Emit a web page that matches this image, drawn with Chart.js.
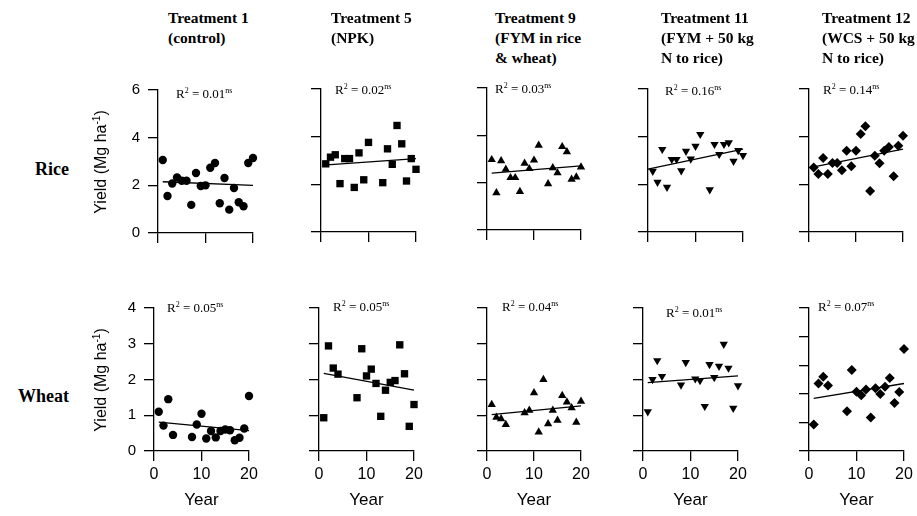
<!DOCTYPE html>
<html><head><meta charset="utf-8">
<script src="https://cdn.jsdelivr.net/npm/chart.js@4.4.1/dist/chart.umd.min.js"></script>
<style>
body{margin:0;width:917px;height:516px;background:#fff;position:relative;overflow:hidden;font-family:"Liberation Sans",Arial,sans-serif;color:#000}
.t{position:absolute;font-family:"Liberation Serif","Times New Roman",serif;font-weight:bold;font-size:15.5px;line-height:20px;white-space:nowrap}
.row{position:absolute;left:0;width:69px;text-align:right;font-family:"Liberation Serif","Times New Roman",serif;font-weight:bold;font-size:18px;line-height:22px;white-space:nowrap}
.r2{position:absolute;font-family:"Liberation Serif","Times New Roman",serif;font-size:13px;line-height:14px;white-space:nowrap}
.r2 span{font-size:8px;position:relative;top:-5px}
.yt{position:absolute;width:140px;height:20px;line-height:20px;text-align:center;font-size:16px;white-space:nowrap;transform:rotate(-90deg)}
.yt span{font-size:10px;position:relative;top:-6px}
.xt{position:absolute;width:80px;text-align:center;font-size:17px;line-height:20px}
canvas{position:absolute}
</style></head><body>
<script>
// ---- data ----
const yearTicks = [0, 10, 20];
const riceYTicks = [0, 2, 4, 6];
const riceYTickLabels = ['0', '2', '4', '6'];
const wheatYTicks = [0, 1, 2, 3, 4];
const wheatYTickLabels = ['0', '1', '2', '3', '4'];
const wheatT12YTicks = [0, 1, 2, 3, 4, 5];

const riceT1Year = [1,2,3,4,5,6,7,8,9,10,11,12,13,14,15,16,17,18,19,20];
const riceT1Yield = [3.06,1.55,2.08,2.33,2.19,2.19,1.18,2.52,1.97,2.00,2.74,2.94,1.25,2.31,0.98,1.89,1.29,1.12,2.94,3.15];
const riceT1FitYear = [1, 20];
const riceT1Fit = [2.15, 2.00];

const riceT5Year = [1,2,3,4,5,6,7,8,9,10,13,14,15,16,17,18,19,20];
const riceT5Yield = [2.86,3.14,3.24,2.03,3.08,3.08,1.87,3.32,2.19,3.76,2.07,3.49,2.84,4.47,3.70,2.14,3.08,2.63];
const riceT5FitYear = [0.5, 20];
const riceT5Fit = [2.81, 3.08];

const riceT9Year = [1,2,3,4,5,6,7,8,9,10,11,13,14,15,16,17,18,19,20];
const riceT9Yield = [2.97,1.57,2.92,2.56,2.21,2.21,1.62,2.82,2.59,2.95,3.58,1.95,2.63,2.41,3.52,3.30,2.14,2.24,2.66];
const riceT9FitYear = [1, 20];
const riceT9Fit = [2.40, 2.71];

const riceT11Year = [1,2,3,4,5,6,7,8,9,10,11,13,14,15,16,17,18,19,20];
const riceT11Yield = [2.55,2.09,3.47,1.88,3.05,3.05,2.57,3.39,3.07,3.60,4.10,1.78,3.68,3.26,3.68,3.75,2.97,3.42,3.21];
const riceT11FitYear = [0, 20];
const riceT11Fit = [2.64, 3.48];

const riceT12Year = [1,2,3,4,5,6,7,8,9,10,11,12,13,14,15,16,17,18,19,20];
const riceT12Yield = [2.71,2.43,3.11,2.43,2.90,2.90,2.59,3.41,2.76,3.41,4.11,4.44,1.72,3.20,2.88,3.41,3.57,2.34,3.62,4.04];
const riceT12FitYear = [1, 20];
const riceT12Fit = [2.73, 3.48];

const wheatT1Year = [1,2,3,4,8,9,10,11,12,13,14,15,16,17,18,19,20];
const wheatT1Yield = [1.10,0.71,1.45,0.45,0.39,0.74,1.04,0.35,0.56,0.38,0.56,0.60,0.58,0.30,0.37,0.63,1.54];
const wheatT1FitYear = [1, 20];
const wheatT1Fit = [0.81, 0.57];

const wheatT5Year = [1,2,3,4,8,9,10,11,12,13,14,15,16,17,18,19,20];
const wheatT5Yield = [0.93,2.94,2.32,2.15,1.49,2.86,2.10,2.29,1.89,0.97,1.70,1.92,1.97,2.97,2.16,0.69,1.30];
const wheatT5FitYear = [1, 20];
const wheatT5Fit = [2.17, 1.70];

const wheatT9Year = [1,2,3,4,8,9,10,11,12,13,14,15,16,17,18,19,20];
const wheatT9Yield = [1.30,0.94,0.90,0.74,1.07,1.14,1.63,0.53,2.00,0.76,1.14,0.86,1.55,1.37,1.21,0.80,1.39];
const wheatT9FitYear = [1, 20];
const wheatT9Fit = [1.02, 1.26];

const wheatT11Year = [1,2,3,4,8,9,11,12,13,14,15,16,17,18,19,20];
const wheatT11Yield = [1.10,2.00,2.53,2.09,1.85,2.48,2.02,1.97,1.25,2.42,2.06,2.37,2.99,2.32,1.20,1.83];
const wheatT11FitYear = [1, 20];
const wheatT11Fit = [1.91, 2.10];

const wheatT12Year = [1,2,3,4,8,9,10,11,12,13,14,15,16,17,18,19,20];
const wheatT12Yield = [0.93,2.36,2.60,2.29,1.39,2.83,2.07,1.95,2.15,1.17,2.19,1.99,2.25,2.55,1.68,2.06,3.57];
const wheatT12FitYear = [1, 20];
const wheatT12Fit = [1.84, 2.36];

const titles = [
  ['Treatment 1', '(control)'],
  ['Treatment 5', '(NPK)'],
  ['Treatment 9', '(FYM in rice', '& wheat)'],
  ['Treatment 11', '(FYM + 50 kg', 'N to rice)'],
  ['Treatment 12', '(WCS + 50 kg', 'N to rice)']
];
const riceR2 = ['0.01', '0.02', '0.03', '0.16', '0.14'];
const wheatR2 = ['0.05', '0.05', '0.04', '0.01', '0.07'];
const sigLabel = 'ns';

// ---- layout (pixels) ----
const titleLeft = [168, 331, 495, 661, 822];
const ricePanels = [
  {x:158, y:90, w:95, h:143}, {x:321, y:89, w:95, h:143}, {x:487, y:88, w:94, h:142},
  {x:648, y:89, w:95, h:143}, {x:809, y:89, w:94, h:143}
];
const wheatPanels = [
  {x:154, y:308, w:95, h:143}, {x:319, y:308, w:95, h:143}, {x:487, y:308, w:94, h:143},
  {x:643, y:308, w:95, h:143}, {x:809, y:308, w:95, h:143}
];
const riceR2Pos = [[176,94],[335,90],[495,89],[665,91],[823,90]];
const wheatR2Pos = [[167,308],[333,307],[502,307],[666,313],[818,307]];

const styles = [
  {ps:'circle', rot:0, r:4.2},
  {ps:'rect', rot:0, r:5.2},
  {ps:'triangle', rot:0, r:4.8},
  {ps:'triangle', rot:180, r:4.8},
  {ps:'rectRot', rot:0, r:5}
];

const PADL = 50, PADT = 20, PADR = 20, PADB = 50;

function addDiv(cls, html, css) {
  const d = document.createElement('div');
  d.className = cls; d.innerHTML = html; d.style.cssText = css;
  document.body.appendChild(d);
}

function makeChart(p, years, vals, fitX, fitY, st, yTicks, yLabels, showY, showX) {
  const cv = document.createElement('canvas');
  const cw = p.w + PADL + PADR, ch = p.h + PADT + PADB;
  cv.width = cw; cv.height = ch;
  cv.style.left = (p.x - PADL) + 'px'; cv.style.top = (p.y - PADT) + 'px';
  cv.style.width = cw + 'px'; cv.style.height = ch + 'px';
  document.body.appendChild(cv);
  const axisCommon = {
    grid:{drawOnChartArea:false, drawTicks:true, tickLength:10, color:'#000', lineWidth:1.3},
    border:{display:true, color:'#000', width:1.3}
  };
  new Chart(cv, {
    type:'scatter',
    data:{datasets:[
      {data: years.map((x,i)=>({x:x, y:vals[i]})), pointStyle:st.ps, rotation:st.rot, pointRadius:st.r,
       pointHoverRadius:st.r, backgroundColor:'#000', borderColor:'#000', borderWidth:0, clip:false},
      {data: fitX.map((x,i)=>({x:x, y:fitY[i]})), showLine:true, pointRadius:0, borderColor:'#000',
       borderWidth:1.3, clip:false}
    ]},
    options:{
      responsive:false, animation:false, devicePixelRatio:1, events:[],
      plugins:{legend:{display:false}, tooltip:{enabled:false}},
      layout:{padding:{left:0, top:PADT, right:PADR, bottom:0}},
      scales:{
        x:Object.assign({type:'linear', min:0, max:20,
          afterBuildTicks:s=>{s.ticks = yearTicks.map(v=>({value:v}));},
          afterFit:s=>{s.height = PADB;},
          ticks:{display:showX, color:'#000', padding:4, maxRotation:0, autoSkip:false,
                 font:{family:'"Liberation Sans", Arial, sans-serif', size:16}}
        }, axisCommon),
        y:Object.assign({type:'linear', min:yTicks[0], max:yTicks[yTicks.length-1],
          afterBuildTicks:s=>{s.ticks = yTicks.map(v=>({value:v}));},
          afterFit:s=>{s.width = PADL;},
          ticks:{display:showY, color:'#000', padding:8, autoSkip:false,
                 callback:(v,i)=> yLabels ? yLabels[i] : String(v),
                 font:{family:'"Liberation Sans", Arial, sans-serif', size:15}}
        }, axisCommon)
      }
    }
  });
}

const riceSets = [
  [riceT1Year, riceT1Yield, riceT1FitYear, riceT1Fit],
  [riceT5Year, riceT5Yield, riceT5FitYear, riceT5Fit],
  [riceT9Year, riceT9Yield, riceT9FitYear, riceT9Fit],
  [riceT11Year, riceT11Yield, riceT11FitYear, riceT11Fit],
  [riceT12Year, riceT12Yield, riceT12FitYear, riceT12Fit]
];
const wheatSets = [
  [wheatT1Year, wheatT1Yield, wheatT1FitYear, wheatT1Fit],
  [wheatT5Year, wheatT5Yield, wheatT5FitYear, wheatT5Fit],
  [wheatT9Year, wheatT9Yield, wheatT9FitYear, wheatT9Fit],
  [wheatT11Year, wheatT11Yield, wheatT11FitYear, wheatT11Fit],
  [wheatT12Year, wheatT12Yield, wheatT12FitYear, wheatT12Fit]
];

for (let i = 0; i < 5; i++) {
  const rs = riceSets[i], ws = wheatSets[i];
  makeChart(ricePanels[i], rs[0], rs[1], rs[2], rs[3], styles[i], riceYTicks, riceYTickLabels, i === 0, false);
  const wt = i === 4 ? wheatT12YTicks : wheatYTicks;
  makeChart(wheatPanels[i], ws[0], ws[1], ws[2], ws[3], styles[i], wt, i === 0 ? wheatYTickLabels : null, i === 0, true);
  addDiv('t', titles[i].join('<br>'), `left:${titleLeft[i]}px;top:8px`);
  addDiv('r2', `R<span>2</span> = ${riceR2[i]}<span>${sigLabel}</span>`, `left:${riceR2Pos[i][0]}px;top:${riceR2Pos[i][1]-7}px`);
  addDiv('r2', `R<span>2</span> = ${wheatR2[i]}<span>${sigLabel}</span>`, `left:${wheatR2Pos[i][0]}px;top:${wheatR2Pos[i][1]-7}px`);
  const wp = wheatPanels[i];
  addDiv('xt', 'Year', `left:${wp.x + wp.w/2 - 40}px;top:490px`);
}
addDiv('row', 'Rice', 'top:158px');
addDiv('row', 'Wheat', 'top:385px');
addDiv('yt', 'Yield (Mg ha<span>-1</span>)', 'left:31px;top:152px');
addDiv('yt', 'Yield (Mg ha<span>-1</span>)', 'left:31px;top:370px');
</script>
</body></html>
